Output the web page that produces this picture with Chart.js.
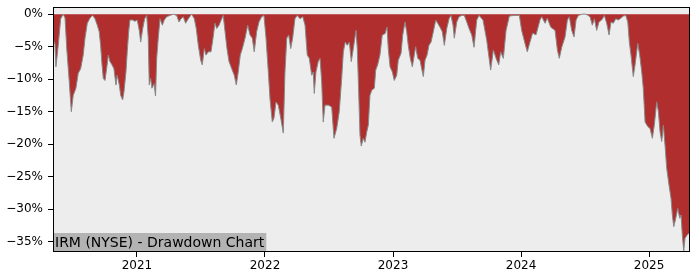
<!DOCTYPE html>
<html>
<head>
<meta charset="utf-8">
<script src="https://cdn.jsdelivr.net/npm/chart.js@4/dist/chart.umd.min.js"></script>
<style>
  body { margin: 0; background: #fff; }
  #wrap { width: 700px; height: 280px; }
</style>
</head>
<body>
<div id="wrap"><canvas id="ddChart"></canvas></div>
<script>
// dates as decimal years, drawdown in %
const dates = [
  2020.348, 2020.359, 2020.367, 2020.385, 2020.404, 2020.424, 2020.438, 2020.451, 2020.471, 2020.487,
  2020.502, 2020.523, 2020.541, 2020.560, 2020.580, 2020.594, 2020.612, 2020.633, 2020.654, 2020.672,
  2020.690, 2020.705, 2020.716, 2020.727, 2020.737, 2020.750, 2020.763, 2020.776, 2020.789, 2020.805,
  2020.820, 2020.836, 2020.846, 2020.862, 2020.873, 2020.888, 2020.898, 2020.914, 2020.924, 2020.935,
  2020.945, 2020.966, 2020.984, 2021.002, 2021.018, 2021.029, 2021.045, 2021.060, 2021.076, 2021.088,
  2021.096, 2021.107, 2021.117, 2021.133, 2021.145, 2021.154, 2021.166, 2021.180, 2021.198, 2021.213,
  2021.232, 2021.258, 2021.284, 2021.310, 2021.328, 2021.344, 2021.362, 2021.380, 2021.401, 2021.427,
  2021.448, 2021.463, 2021.479, 2021.498, 2021.510, 2021.526, 2021.539, 2021.557, 2021.578, 2021.594,
  2021.609, 2021.623, 2021.641, 2021.662, 2021.674, 2021.688, 2021.703, 2021.719, 2021.740, 2021.760,
  2021.776, 2021.791, 2021.807, 2021.823, 2021.844, 2021.865, 2021.883, 2021.901, 2021.916, 2021.935,
  2021.953, 2021.974, 2021.992, 2022.008, 2022.026, 2022.039, 2022.057, 2022.070, 2022.086, 2022.104,
  2022.123, 2022.143, 2022.156, 2022.170, 2022.185, 2022.201, 2022.216, 2022.234, 2022.252, 2022.273,
  2022.295, 2022.313, 2022.330, 2022.346, 2022.365, 2022.377, 2022.385, 2022.398, 2022.416, 2022.430,
  2022.443, 2022.455, 2022.469, 2022.495, 2022.521, 2022.539, 2022.560, 2022.580, 2022.599, 2022.612,
  2022.627, 2022.643, 2022.659, 2022.674, 2022.690, 2022.711, 2022.721, 2022.732, 2022.742, 2022.752,
  2022.768, 2022.781, 2022.795, 2022.807, 2022.820, 2022.834, 2022.854, 2022.865, 2022.880, 2022.898,
  2022.916, 2022.938, 2022.953, 2022.963, 2022.977, 2022.995, 2023.010, 2023.029, 2023.041, 2023.063,
  2023.076, 2023.094, 2023.107, 2023.119, 2023.135, 2023.151, 2023.166, 2023.177, 2023.193, 2023.211,
  2023.224, 2023.237, 2023.250, 2023.266, 2023.281, 2023.297, 2023.315, 2023.334, 2023.349, 2023.367,
  2023.385, 2023.401, 2023.420, 2023.438, 2023.453, 2023.469, 2023.479, 2023.498, 2023.516, 2023.537,
  2023.557, 2023.576, 2023.594, 2023.615, 2023.633, 2023.654, 2023.672, 2023.703, 2023.732, 2023.763,
  2023.784, 2023.805, 2023.826, 2023.841, 2023.862, 2023.883, 2023.909, 2023.945, 2023.987, 2024.005,
  2024.031, 2024.049, 2024.070, 2024.091, 2024.117, 2024.148, 2024.162, 2024.188, 2024.205, 2024.232,
  2024.266, 2024.284, 2024.299, 2024.318, 2024.344, 2024.362, 2024.377, 2024.396, 2024.414, 2024.430,
  2024.448, 2024.477, 2024.508, 2024.539, 2024.557, 2024.573, 2024.591, 2024.609, 2024.630, 2024.651,
  2024.669, 2024.688, 2024.703, 2024.721, 2024.740, 2024.760, 2024.781, 2024.799, 2024.818, 2024.834,
  2024.846, 2024.859, 2024.877, 2024.891, 2024.912, 2024.927, 2024.943, 2024.955, 2024.969, 2024.990,
  2025.008, 2025.026, 2025.041, 2025.060, 2025.073, 2025.086, 2025.099, 2025.112, 2025.125, 2025.138,
  2025.156, 2025.172, 2025.182, 2025.193, 2025.209, 2025.224, 2025.240, 2025.250, 2025.260, 2025.271,
  2025.281, 2025.297, 2025.313
];

const drawdown = [
  -4.0, -4.6, -8.1, -4.8, -0.7, 0.0, -0.6, -5.2, -10.4, -15.0,
  -12.5, -11.4, -9.1, -8.4, -6.3, -3.7, -1.4, -0.6, -0.2, -0.7,
  -1.7, -2.7, -4.8, -7.8, -9.9, -10.2, -8.4, -6.3, -7.3, -7.8,
  -8.4, -10.9, -9.4, -10.9, -12.5, -13.2, -12.0, -8.9, -5.8, -2.7,
  -0.9, -0.9, -1.1, -0.9, -2.5, -4.3, -2.2, -0.7, -0.2, -3.7,
  -10.9, -9.9, -11.4, -10.7, -12.6, -6.8, -3.7, -0.7, -1.7, -0.9,
  -0.4, -0.2, 0.0, -0.2, -1.2, -0.7, -0.4, -1.4, -0.7, 0.0,
  -0.7, -2.2, -4.8, -7.1, -7.8, -5.3, -6.3, -5.8, -5.8, -3.7,
  -1.4, -2.2, -1.7, -0.7, -0.2, -2.7, -5.3, -7.3, -8.4, -9.4,
  -10.9, -8.9, -6.3, -5.3, -3.7, -1.7, -3.2, -3.7, -5.8, -2.7,
  -1.2, -0.4, -0.2, -3.7, -8.9, -13.0, -16.6, -16.0, -13.5, -14.0,
  -16.0, -18.3, -8.9, -3.7, -3.2, -5.3, -3.7, -0.7, -0.2, -0.7,
  -0.4, -1.7, -6.3, -6.8, -9.4, -8.9, -12.2, -8.9, -7.3, -6.8,
  -10.4, -16.6, -14.0, -14.0, -14.3, -19.1, -17.6, -15.0, -9.9, -5.8,
  -4.3, -4.8, -4.3, -7.3, -5.3, -2.5, -5.3, -12.0, -18.6, -20.3,
  -19.1, -19.7, -18.1, -17.1, -12.5, -11.7, -11.4, -8.6, -7.8, -6.3,
  -3.2, -3.0, -2.0, -5.3, -8.1, -8.9, -10.2, -9.4, -7.1, -6.0,
  -3.2, -1.2, -2.7, -4.8, -6.8, -8.1, -6.3, -5.0, -6.8, -7.1,
  -8.4, -9.6, -7.1, -6.3, -4.8, -4.3, -2.7, -0.9, -1.4, -2.0,
  -2.7, -4.8, -2.2, -0.7, -0.2, -1.7, -3.7, -1.2, -0.4, -0.2,
  -0.2, -1.2, -2.2, -3.2, -5.1, -0.9, -0.2, -0.9, -4.0, -8.6,
  -5.5, -6.8, -7.8, -5.8, -6.8, -2.5, -0.3, -0.2, -0.2, -2.5,
  -4.5, -5.8, -4.3, -2.9, -3.2, -0.9, -0.4, -1.4, -0.6, -2.0,
  -2.5, -5.5, -6.8, -5.1, -3.5, -0.9, -0.4, -2.5, -3.5, -0.9,
  -0.2, 0.0, 0.0, -0.4, -1.7, -0.7, -2.5, -1.2, -0.9, -0.2,
  -1.4, -3.2, -1.2, -1.4, -0.7, -0.9, -0.6, -0.3, -0.2, -1.2,
  -4.3, -6.3, -9.6, -7.8, -4.5, -6.3, -8.9, -11.4, -16.6, -17.3,
  -17.6, -19.1, -17.1, -13.5, -15.0, -18.1, -19.6, -17.1, -20.2, -23.7,
  -26.3, -28.4, -30.9, -32.7, -31.4, -29.9, -31.4, -30.9, -34.0, -36.5,
  -34.5, -34.0, -33.7
];

const yearTicks = [2021, 2022, 2023, 2024, 2025];
const pctTicks = [0, -5, -10, -15, -20, -25, -30, -35];
const chartLabel = 'IRM (NYSE) - Drawdown Chart';

const FONT = 'DejaVu Sans';

// plot background, label box and full frame like the original
const framePlugin = {
  id: 'frame',
  beforeDatasetsDraw(chart) {
    const { ctx, chartArea: a } = chart;
    ctx.save();
    ctx.fillStyle = '#ededed';
    ctx.fillRect(a.left, a.top, a.right - a.left, a.bottom - a.top);
    ctx.restore();
  },
  afterDatasetsDraw(chart) {
    const { ctx, chartArea: a } = chart;
    ctx.save();
    ctx.font = '14px "' + FONT + '"';
    const w = ctx.measureText(chartLabel).width;
    ctx.fillStyle = '#b3b3b3';
    ctx.fillRect(a.left + 1, a.bottom - 19, w + 3, 19);
    ctx.fillStyle = '#000';
    ctx.textBaseline = 'alphabetic';
    ctx.fillText(chartLabel, a.left + 2, a.bottom - 5);
    ctx.strokeStyle = '#000';
    ctx.lineWidth = 1;
    ctx.strokeRect(Math.round(a.left) + 0.5, Math.round(a.top) + 0.5,
      Math.round(a.right - a.left) - 1, Math.round(a.bottom - a.top) - 1);
    ctx.restore();
  }
};

const ctx = document.getElementById('ddChart');
new Chart(ctx, {
  type: 'line',
  data: {
    datasets: [{
      data: dates.map((d, i) => ({ x: d, y: drawdown[i] })),
      borderColor: '#888888',
      borderWidth: 1,
      backgroundColor: '#b02e2e',
      fill: 'origin',
      pointRadius: 0,
      tension: 0
    }]
  },
  options: {
    responsive: true,
    maintainAspectRatio: false,
    animation: false,
    layout: { padding: { left: 0, top: 7, right: 10, bottom: 0 } },
    plugins: {
      legend: { display: false },
      tooltip: { enabled: false }
    },
    scales: {
      x: {
        type: 'linear',
        min: 2020.344,
        max: 2025.320,
        afterBuildTicks: s => { s.ticks = yearTicks.map(v => ({ value: v })); },
        afterFit: s => { s.height = 28; s.paddingLeft = 0; s.paddingRight = 0; },
        grid: { drawOnChartArea: false, tickLength: 5, color: '#000', tickWidth: 1 },
        border: { display: false },
        ticks: {
          color: '#000',
          padding: 2,
          font: { family: FONT, size: 12 },
          maxRotation: 0,
          callback: v => String(v)
        }
      },
      y: {
        min: -36.6,
        max: 1.1,
        afterBuildTicks: s => { s.ticks = pctTicks.map(v => ({ value: v })); },
        afterFit: s => { s.width = 53; s.paddingTop = 0; s.paddingBottom = 0; },
        grid: { drawOnChartArea: false, tickLength: 5, color: '#000', tickWidth: 1 },
        border: { display: false },
        ticks: {
          color: '#000',
          padding: 5,
          font: { family: FONT, size: 12 },
          callback: v => (v < 0 ? '\u2212' + Math.abs(v) : v) + '%'
        }
      }
    }
  },
  plugins: [framePlugin]
});
</script>
</body>
</html>
